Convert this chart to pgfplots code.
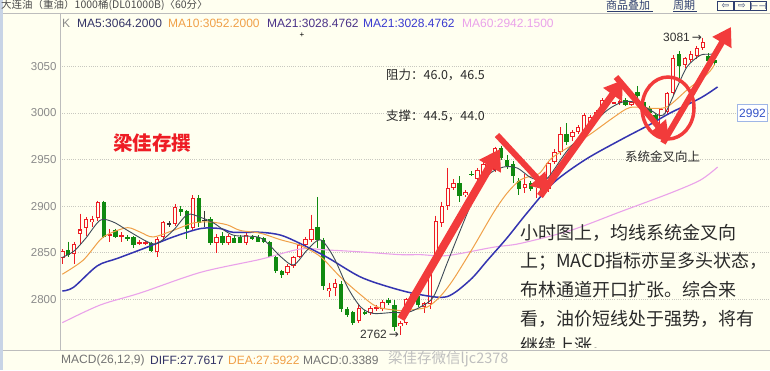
\documentclass[border=0pt]{standalone}
\usepackage{fontspec}
\setmainfont{Liberation Sans}
\newfontfamily\cjk{Noto Sans CJK SC}
\newfontfamily\dvs{DejaVu Sans}
\usepackage{pgfplots}
\pgfplotsset{compat=1.18}
\usepackage{pgfplotstable}
\usetikzlibrary{arrows.meta}
\definecolor{bg}{HTML}{FFFFF0}
\definecolor{leftblue}{HTML}{C8D4E6}
\definecolor{axisgray}{HTML}{BDBDBD}
\definecolor{gridgray}{HTML}{C8C8C0}
\definecolor{tickgray}{HTML}{8A8A8A}
\definecolor{cred}{HTML}{EE1C24}
\definecolor{cgreen}{HTML}{108A10}
\definecolor{ma5}{HTML}{3E4A58}
\definecolor{ma10}{HTML}{F0A048}
\definecolor{ma21}{HTML}{3434B0}
\definecolor{ma60}{HTML}{EAA2EA}
\definecolor{hma5}{HTML}{333366}
\definecolor{hma21a}{HTML}{4A3288}
\definecolor{hma21b}{HTML}{3A3AD0}
\definecolor{link}{HTML}{2F3F6F}
\definecolor{ared}{HTML}{F23B3B}
\definecolor{numblue}{HTML}{3553C8}
\definecolor{boxblue}{HTML}{9FB6E6}
\definecolor{txt}{HTML}{2A2A2A}

\pgfplotstableread{
k o h l c
1 2844 2854 2838 2852
3 2849 2862 2838 2859
4 2870 2892 2858 2875
5 2877 2888 2868 2886
6 2883 2890 2878 2886
7 2887 2906 2884 2904
9 2868 2875 2862 2870
11 2867 2872 2862 2869
14 2860 2864 2858 2862
15 2860 2863 2858 2862
17 2851 2867 2846 2865
18 2867 2884 2863 2883
20 2881 2902 2879 2899
23 2877 2912 2873 2909
27 2861 2870 2850 2867
29 2861 2870 2858 2868
32 2860 2872 2858 2869
39 2828 2838 2826 2836
40 2836 2847 2834 2845
41 2846 2860 2844 2858
42 2858 2867 2856 2865
43 2864 2891 2862 2876
46 2809 2818 2803 2812
47 2812 2822 2804 2818
51 2777 2795 2775 2791
53 2785 2793 2783 2791
54 2791 2794 2788 2791
55 2790 2799 2788 2797
58 2771 2777 2762 2775
59 2775 2802 2772 2800
60 2802 2808 2798 2806
62 2792 2797 2785 2796
63 2795 2840 2790 2836
64 2838 2890 2835 2884
65 2882 2905 2878 2900
66 2900 2941 2896 2920
67 2920 2929 2917 2925
69 2912 2917 2910 2915
71 2929 2941 2927 2939
72 2934 2947 2932 2945
73 2939 2951 2937 2950
74 2939 2964 2937 2962
79 2920 2935 2914 2924
81 2919 2925 2909 2923
83 2918 2948 2915 2946
84 2947 2961 2945 2958
85 2958 2985 2955 2978
87 2974 2982 2970 2980
88 2980 2987 2977 2985
89 2980 3000 2978 2998
90 2989 2998 2987 2996
91 2995 3003 2993 3001
92 3000 3016 2998 3014
93 3012 3017 3010 3016
94 3011 3012 3010 3011
95 3011 3014 3009 3013
97 3009 3013 3007 3012
102 2986 3005 2984 3004
103 3001 3022 2999 3021
104 3021 3062 3019 3059
106 3052 3060 3048 3059
107 3057 3066 3055 3063
108 3061 3072 3058 3070
109 3070 3081 3068 3076
}\upc

\pgfplotstableread{
k o h l c
2 2853 2862 2845 2848
8 2905 2906 2866 2867
10 2875 2876 2866 2867
12 2867 2869 2863 2865
13 2867 2868 2855 2858
16 2860 2862 2851 2852
21 2897 2900 2890 2894
22 2895 2896 2865 2875
24 2909 2912 2878 2882
26 2886 2888 2858 2861
28 2868 2872 2858 2861
30 2866 2868 2860 2861
31 2867 2869 2860 2861
33 2867 2869 2864 2865
34 2867 2869 2862 2862
35 2866 2867 2860 2862
36 2862 2863 2845 2846
37 2846 2847 2828 2830
38 2831 2832 2823 2826
44 2878 2910 2855 2864
45 2864 2866 2810 2814
48 2817 2820 2786 2790
49 2790 2792 2781 2783
50 2786 2788 2773 2775
52 2787 2789 2783 2784
56 2799 2801 2794 2796
57 2794 2799 2766 2770
61 2804 2807 2792 2794
68 2925 2932 2905 2911
70 2935 2938 2932 2934
75 2962 2965 2950 2952
76 2950 2955 2940 2943
77 2945 2948 2925 2932
78 2927 2930 2912 2918
80 2925 2927 2916 2918
82 2923 2926 2914 2917
86 2978 2989 2966 2969
96 3014 3016 3008 3009
98 3023 3029 3015 3018
99 3012 3014 3003 3005
100 3005 3008 2998 3000
101 2998 3000 2988 2991
105 3063 3066 3035 3050
110 3061 3064 3054 3056
111 3057 3059 3052 3054
}\dnc

\pgfplotstableread{
k o h l c
19 2881 2884 2878 2881
25 2885 2895 2878 2885
}\dojic

\begin{document}
\begin{tikzpicture}[x=1pt,y=1pt]
\useasboundingbox (0,0) rectangle (770,370);
\fill[bg] (0,0) rectangle (770,370);
\fill[leftblue] (0,0) rectangle (2.5,370);

\begin{axis}[at={(60pt,20pt)}, anchor=south west, scale only axis,
  width=710pt, height=337pt,
  xmin=0.61, xmax=120.34, ymin=2745.7, ymax=3107.3,
  axis lines*=left, axis line style={draw=none},
  xtick=\empty,
  ytick={2800,2850,2900,2950,3000,3050},
  yticklabels={2800,2850,2900,2950,3000,3050},
  major tick length=0pt,
  ymajorgrids, major grid style={gridgray, dash pattern=on 1pt off 1.2pt, line width=0.8pt},
  yticklabel style={font=\fontsize{11.5}{13}\selectfont, text=tickgray},
  clip=true]

% wicks
\addplot[draw=none, mark=none, forget plot, error bars/.cd, y dir=both, y explicit, error mark=none,
  error bar style={draw=cred, line width=0.9pt}]
  table[x=k, y=h, y error plus expr=0, y error minus expr=\thisrow{h}-\thisrow{l}] {\upc};
\addplot[draw=none, mark=none, forget plot, error bars/.cd, y dir=both, y explicit, error mark=none,
  error bar style={draw=cgreen, line width=0.9pt}]
  table[x=k, y=h, y error plus expr=0, y error minus expr=\thisrow{h}-\thisrow{l}] {\dnc};
\addplot[draw=none, mark=none, forget plot, error bars/.cd, y dir=both, y explicit, error mark=none,
  error bar style={draw=black!80, line width=0.9pt}]
  table[x=k, y=h, y error plus expr=0, y error minus expr=\thisrow{h}-\thisrow{l}] {\dojic};
% bodies
\addplot[draw=none, mark=none, forget plot, error bars/.cd, y dir=both, y explicit, error mark=none,
  error bar style={draw=cred, line width=4.4pt}]
  table[x=k, y expr={(\thisrow{o}+\thisrow{c})/2}, y error expr={max(abs(\thisrow{c}-\thisrow{o})/2,0.55)}] {\upc};
\addplot[draw=none, mark=none, forget plot, error bars/.cd, y dir=both, y explicit, error mark=none,
  error bar style={draw=bg, line width=2.5pt}]
  table[x=k, y expr={(\thisrow{o}+\thisrow{c})/2}, y error expr={max(abs(\thisrow{c}-\thisrow{o})/2-1.1,0)}] {\upc};
\addplot[draw=none, mark=none, forget plot, error bars/.cd, y dir=both, y explicit, error mark=none,
  error bar style={draw=cgreen, line width=4.4pt}]
  table[x=k, y expr={(\thisrow{o}+\thisrow{c})/2}, y error expr={max(abs(\thisrow{c}-\thisrow{o})/2,0.55)}] {\dnc};
\addplot[draw=none, mark=none, forget plot, error bars/.cd, y dir=both, y explicit, error mark=none,
  error bar style={draw=black!80, line width=4.4pt}]
  table[x=k, y expr={(\thisrow{o}+\thisrow{c})/2}, y error expr={0.5}] {\dojic};

% MA60
\addplot[ma60, line width=1.1pt, smooth, mark=none] coordinates {
(1,2775)(7.4,2794)(14.2,2807)(24.3,2829)(34.4,2843)(41.1,2854)(45.7,2853)(51.3,2851)(58,2848)(61.4,2848)(65.9,2847)(73.7,2856)(78.2,2860)(86.7,2874)(95.1,2894)(103.5,2914)(108.6,2928)(111.5,2942)};
% MA21
\addplot[ma21, line width=1.5pt, smooth, mark=none] coordinates {
(1,2809)(2.9,2813)(6.9,2836)(10.3,2844)(15.3,2856)(19.7,2867)(24.3,2876)(27.6,2876)(29.8,2872)(34.4,2872)(37.8,2869)(41.1,2860)(45.7,2845)(51.3,2824)(56.8,2812)(61.4,2805)(65.9,2803)(69.8,2821)(72.7,2842)(76,2866)(79.4,2893)(83.8,2925)(89.2,2950)(95.1,2971)(100.2,2988)(103.5,3000)(108.6,3016)(111.5,3028)};
% MA10
\addplot[ma10, line width=1pt, smooth, mark=none] coordinates {
(1,2827)(4.5,2842)(7.4,2864)(9.1,2871)(12,2877)(14.2,2872)(16.3,2867)(19.7,2874)(23.1,2882)(26,2883)(28.8,2880)(31,2874)(34.4,2871)(37.8,2864)(41.1,2858)(44.5,2846)(47.9,2824)(51.3,2805)(54.1,2792)(58,2788)(60.2,2789)(62.6,2792)(64.7,2803)(66.9,2821)(70.3,2856)(73.7,2893)(76,2914)(78.2,2928)(80.4,2933)(81.6,2936)(83.8,2953)(89.5,2975)(93.9,2995)(96.8,3006)(100.7,3005)(103.1,3007)(106.4,3025)(109.8,3042)(111,3052)};
% MA5
\addplot[ma5, line width=0.9pt, smooth, mark=none] coordinates {
(1,2845)(3,2852)(5,2866)(7.4,2885)(9.6,2883)(12,2874)(15.3,2862)(17,2860)(19.7,2874)(22.1,2891)(24.3,2888)(26.5,2882)(29.8,2869)(34.4,2866)(37.8,2846)(40,2837)(42.3,2853)(44.5,2864)(46.7,2846)(49.1,2813)(51.3,2792)(53.4,2785)(56.8,2786)(59.2,2786)(61.4,2792)(63.6,2803)(65.9,2839)(68.1,2874)(70.3,2907)(72.7,2933)(75.4,2942)(77.7,2941)(79.9,2931)(81.6,2928)(82.8,2930)(84,2940)(86.2,2960)(89.5,2982)(92.9,3003)(95.6,3012)(98,3011)(100.2,3003)(102.4,2998)(104.7,3028)(106.4,3050)(108.6,3062)(110.3,3063)(111,3064)};
\end{axis}

% frame lines
\draw[axisgray, line width=0.8pt] (2.5,357) -- (770,357);
\draw[axisgray, line width=0.8pt] (2.5,20) -- (770,20);
\draw[axisgray, line width=0.8pt] (60,357) -- (60,20);

% header line 1
\node[anchor=west, inner sep=0pt, text=black!70, font=\cjk\fontsize{10.5}{11}\selectfont] at (1,364.5) {大连油（重油）1000桶(DL01000B)〈60分〉};
\node[anchor=west, inner sep=0pt, text=link, font=\cjk\fontsize{11}{11}\selectfont] at (606,364.5) {商品叠加};
\draw[link, line width=0.6pt] (607,359) -- (653,359);
\node[anchor=west, inner sep=0pt, text=link, font=\cjk\fontsize{11}{11}\selectfont] at (673,364.5) {周期};
\draw[link, line width=0.6pt] (673,359) -- (697,359);
\draw[link, line width=0.6pt] (717.5,359.5) rectangle (733.5,368.5);
\draw[link, line width=0.6pt] (734,359.5) rectangle (750,368.5);
\draw[link, line width=0.6pt] (750.5,359.5) rectangle (766.5,368.5);
\node[inner sep=0pt, text=link, font=\dvs\fontsize{9}{9}\selectfont] at (725.5,364) {⇦};
\node[inner sep=0pt, text=link, font=\dvs\fontsize{9}{9}\selectfont] at (742,364) {⇨};
\node[inner sep=0pt, text=link, font=\dvs\fontsize{9}{9}\selectfont] at (758.5,364) {⊢⊣};

% header line 2
\begin{scope}[every node/.style={anchor=west, inner sep=0pt, font=\fontsize{12}{12}\selectfont}]
\node[text=tickgray] at (62,346.5) {K};
\node[text=hma5] at (77,346.5) {MA5:3064.2000};
\node[text=ma10] at (168,346.5) {MA10:3052.2000};
\node[text=hma21a] at (267,346.5) {MA21:3028.4762};
\node[text=hma21b] at (363,346.5) {MA21:3028.4762};
\node[text=ma60] at (462,346.5) {MA60:2942.1500};
\end{scope}

% bottom line
\begin{scope}[every node/.style={anchor=west, inner sep=0pt, font=\fontsize{12}{12}\selectfont}]
\node[text=black!55] at (61,10) {MACD(26,12,9)};
\node[text=hma5] at (150,10) {DIFF:27.7617};
\node[text=ma10] at (228,10) {DEA:27.5922};
\node[text=black!55] at (303,10) {MACD:0.3389};
\end{scope}
\node[anchor=west, inner sep=0pt, text=black!25, font=\cjk\fontsize{14.5}{15}\selectfont] at (388,11) {梁佳存微信ljc2378};

% annotations: arrows and circle
\begin{scope}[line cap=butt]
\draw[ared, line width=8pt, -{Triangle[length=20pt,width=24pt]}] (401,51) -- (500,221);
\draw[ared, line width=6pt, -{Triangle[length=17pt,width=20pt]}] (497,235) -- (549,179);
\draw[ared, line width=7pt, -{Triangle[length=18pt,width=22pt]}] (540,174) -- (623,290);
\draw[ared, line width=6pt, -{Triangle[length=17pt,width=20pt]}] (616,293) -- (669,231);
\draw[ared, line width=6pt, -{Triangle[length=18pt,width=21pt]}] (663,227) -- (731,343);
\draw[ared, line width=3.5pt] (668,262) ellipse [x radius=26, y radius=31];
\end{scope}

% chart texts
\node[text=cred, font=\cjk\bfseries\fontsize{19.5}{20}\selectfont, inner sep=0pt] at (152,227) {梁佳存撰};
\node[anchor=west, inner sep=0pt, text=txt, font=\cjk\fontsize{12.5}{13}\selectfont] at (386,295) {阻力：46.0，46.5};
\node[anchor=west, inner sep=0pt, text=txt, font=\cjk\fontsize{12.5}{13}\selectfont] at (386,254) {支撑：44.5，44.0};
\node[anchor=west, inner sep=0pt, text=txt, font=\cjk\fontsize{12.5}{13}\selectfont] at (625,213) {系统金叉向上};
\node[anchor=west, inner sep=0pt, text=black!80, font=\fontsize{12}{12}\selectfont] at (663,332.5) {3081\,{\dvs→}};
\node[anchor=west, inner sep=0pt, text=black!80, font=\fontsize{12}{12}\selectfont] at (360,36) {2762\,{\dvs→}};
\node[inner sep=0pt, font=\fontsize{8}{8}\selectfont] at (302,335) {+};
\node[draw=boxblue, fill=white, text=numblue, line width=0.8pt, inner sep=2pt, minimum width=30pt, minimum height=17pt, font=\fontsize{12}{12}\selectfont] at (752.5,257) {2992};

\begin{scope}
\clip (0,22.5) rectangle (770,370);
\begin{scope}[every node/.style={anchor=west, inner sep=0pt, text=txt, font=\cjk\fontsize{18}{18}\selectfont}]
\node at (520,137.5) {小时图上，均线系统金叉向};
\node at (520,108.5) {上；MACD指标亦呈多头状态，};
\node at (520,80) {布林通道开口扩张。综合来};
\node at (520,51) {看，油价短线处于强势，将有};
\node at (520,24) {继续上涨。};
\end{scope}
\end{scope}
\end{tikzpicture}
\end{document}
